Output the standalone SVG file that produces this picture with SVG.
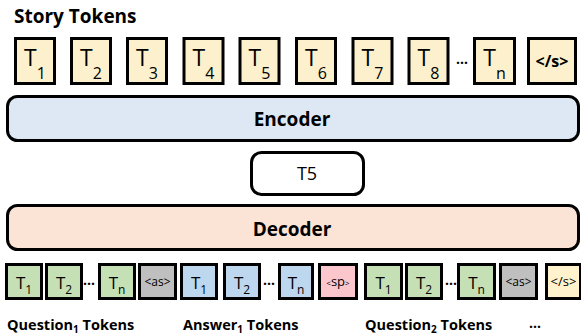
<svg xmlns="http://www.w3.org/2000/svg" width="581" height="336" viewBox="0 0 581 336">
  <style>
    text { font-family: "Open Sans", "Liberation Sans", sans-serif; fill: #000; }
    .title { font-size: 19px; font-weight: 700; }
    .label { font-size: 14.5px; font-weight: 700; }
    .tok { stroke: #000; stroke-width: 3; }
    .story { fill: #fdf0cc; }
    .q { fill: #c6e0b5; }
    .a { fill: #bdd7ee; }
    .as { fill: #bfbfbf; }
    .sp { fill: #fbc7cd; }
    .end { fill: #fff2cc; }
    .big { font-size: 23px; text-anchor: middle; }
    .small { font-size: 17px; text-anchor: middle; }
    .block { stroke: #000; stroke-width: 3; }
    .blockText { font-size: 19px; font-weight: 700; text-anchor: middle; }
    .dots { font-size: 14px; font-weight: 700; text-anchor: middle; }
  </style>

  <!-- heading -->
  <text class="title" x="14" y="23">Story Tokens</text>

  <!-- story token row -->
  <g id="story-t1"><rect class="tok story" x="15.5" y="38.5" width="39" height="45"/><text class="big" x="35" y="66">T<tspan font-size="16" dy="13">1</tspan></text></g>
  <g id="story-t2"><rect class="tok story" x="71.5" y="38.5" width="39" height="45"/><text class="big" x="91" y="66">T<tspan font-size="16" dy="13">2</tspan></text></g>
  <g id="story-t3"><rect class="tok story" x="127.5" y="38.5" width="39" height="45"/><text class="big" x="147" y="66">T<tspan font-size="16" dy="13">3</tspan></text></g>
  <g id="story-t4"><rect class="tok story" x="184" y="38.5" width="39" height="45"/><text class="big" x="203.5" y="66">T<tspan font-size="16" dy="13">4</tspan></text></g>
  <g id="story-t5"><rect class="tok story" x="240" y="38.5" width="39" height="45"/><text class="big" x="259.5" y="66">T<tspan font-size="16" dy="13">5</tspan></text></g>
  <g id="story-t6"><rect class="tok story" x="296.5" y="38.5" width="39" height="45"/><text class="big" x="316" y="66">T<tspan font-size="16" dy="13">6</tspan></text></g>
  <g id="story-t7"><rect class="tok story" x="353" y="38.5" width="39" height="45"/><text class="big" x="372.5" y="66">T<tspan font-size="16" dy="13">7</tspan></text></g>
  <g id="story-t8"><rect class="tok story" x="409" y="38.5" width="39" height="45"/><text class="big" x="428.5" y="66">T<tspan font-size="16" dy="13">8</tspan></text></g>
  <text class="dots" x="462" y="64">…</text>
  <g id="story-tn"><rect class="tok story" x="474.5" y="38.5" width="40" height="45"/><text class="big" x="494.5" y="66">T<tspan font-size="16" dy="13">n</tspan></text></g>
  <g id="story-end"><rect class="tok story" x="528.5" y="38.5" width="47" height="45"/><text x="552" y="67" font-size="16" font-weight="700" text-anchor="middle">&lt;/s&gt;</text></g>

  <!-- model blocks -->
  <g id="encoder">
    <rect class="block" x="7.5" y="96.5" width="571" height="44" rx="10" fill="#dde8f4"/>
    <text class="blockText" x="292" y="126">Encoder</text>
  </g>
  <g id="t5">
    <rect class="block" x="251.5" y="152.5" width="112" height="42" rx="10" fill="#fff"/>
    <text x="307" y="180" font-size="18" text-anchor="middle">T5</text>
  </g>
  <g id="decoder">
    <rect class="block" x="7.5" y="205.5" width="571" height="44" rx="10" fill="#fbe4d6"/>
    <text class="blockText" x="292" y="236">Decoder</text>
  </g>

  <!-- decoder target sequence -->
  <g id="q1-t1"><rect class="tok q" x="6.5" y="264.5" width="35" height="34"/><text class="small" x="24" y="289">T<tspan font-size="12" dy="5">1</tspan></text></g>
  <g id="q1-t2"><rect class="tok q" x="46.5" y="264.5" width="35" height="34"/><text class="small" x="64" y="289">T<tspan font-size="12" dy="5">2</tspan></text></g>
  <text class="dots" x="89" y="285">…</text>
  <g id="q1-tn"><rect class="tok q" x="99.5" y="264.5" width="35" height="34"/><text class="small" x="117" y="289">T<tspan font-size="12" dy="5">n</tspan></text></g>
  <g id="q1-as"><rect class="tok as" x="139.5" y="264.5" width="36" height="34"/><text x="157.5" y="286" font-size="12" text-anchor="middle">&lt;as&gt;</text></g>
  <g id="a1-t1"><rect class="tok a" x="181.5" y="264.5" width="35" height="34"/><text class="small" x="199" y="289">T<tspan font-size="12" dy="5">1</tspan></text></g>
  <g id="a1-t2"><rect class="tok a" x="224.5" y="264.5" width="35" height="34"/><text class="small" x="242" y="289">T<tspan font-size="12" dy="5">2</tspan></text></g>
  <text class="dots" x="269" y="285">…</text>
  <g id="a1-tn"><rect class="tok a" x="279.5" y="264.5" width="33" height="34"/><text class="small" x="296" y="289">T<tspan font-size="12" dy="5">n</tspan></text></g>
  <g id="sp"><rect class="tok sp" x="319.5" y="264.5" width="37" height="34"/><text x="338" y="286" font-size="13" text-anchor="middle"><tspan font-size="8">&lt;</tspan>sp<tspan font-size="8">&gt;</tspan></text></g>
  <g id="q2-t1"><rect class="tok q" x="365.5" y="264.5" width="36" height="34"/><text class="small" x="383.5" y="289">T<tspan font-size="12" dy="5">1</tspan></text></g>
  <g id="q2-t2"><rect class="tok q" x="406.5" y="264.5" width="35" height="34"/><text class="small" x="424" y="289">T<tspan font-size="12" dy="5">2</tspan></text></g>
  <text class="dots" x="451" y="285">…</text>
  <g id="q2-tn"><rect class="tok q" x="458.5" y="264.5" width="36" height="34"/><text class="small" x="476.5" y="289">T<tspan font-size="12" dy="5">n</tspan></text></g>
  <g id="q2-as"><rect class="tok as" x="500.5" y="264.5" width="36" height="34"/><text x="518.5" y="286" font-size="12" text-anchor="middle">&lt;as&gt;</text></g>
  <g id="end"><rect class="tok end" x="546.5" y="264.5" width="34" height="34"/><text x="563.5" y="286" font-size="13" text-anchor="middle">&lt;/s&gt;</text></g>

  <!-- segment labels -->
  <text class="label" x="7" y="330">Question<tspan font-size="10" dy="3">1</tspan><tspan dy="-3"> Tokens</tspan></text>
  <text class="label" x="183" y="330">Answer<tspan font-size="10" dy="3">1</tspan><tspan dy="-3"> Tokens</tspan></text>
  <text class="label" x="365" y="330">Question<tspan font-size="10" dy="3">2</tspan><tspan dy="-3"> Tokens</tspan></text>
  <text class="dots" x="535" y="328">…</text>
</svg>
